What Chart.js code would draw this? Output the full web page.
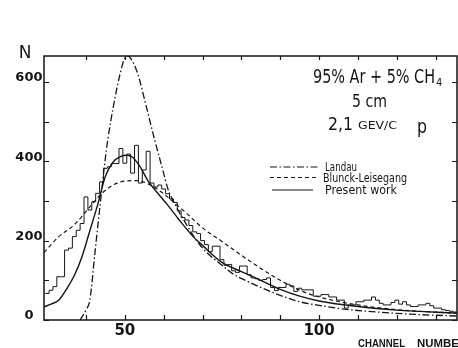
<!DOCTYPE html>
<html><head><meta charset="utf-8">
<script src="https://cdn.jsdelivr.net/npm/chart.js@4.4.1/dist/chart.umd.min.js"></script>
<style>html,body{margin:0;padding:0;background:#fff}#wrap{width:458px;height:348px;position:relative;overflow:hidden}</style>
</head><body><div id="wrap"><canvas id="c" width="458" height="348"></canvas></div>
<script>
// ---- data ----
const histCentres = [30,31,32,33,34,35,36,37,38,39,40,41,42,43,44,45,46,47,48,49,50,51,52,53,54,55,56,57,58,59,60,61,62,63,64,65,66,67,68,69,70,71,72,73,74,75,76,77,78,79,80,81,82,83,84,85,86,87,88,89,90,91,92,93,94,95,96,97,98,99,100,101,102,103,104,105,106,107,108,109,110,111,112,113,114,115,116,117,118,119,120,121,122,123,124,125,126,127,128,129,130,131,132,133,134,135];
const histCounts = [67,75,84,109,109,176,181,210,226,243,310,277,298,319,348,382,386,394,394,432,395,418,370,440,345,378,425,345,335,340,330,318,305,296,275,258,252,238,222,218,200,190,172,186,186,152,138,140,124,120,136,136,114,106,104,100,102,106,82,74,82,82,90,86,72,80,76,76,76,60,60,64,64,58,58,50,50,30,38,38,46,46,50,50,58,50,42,38,38,44,50,40,46,38,34,34,38,38,42,36,30,30,26,24,22,20];

const landauCh = [38.5,40,41,42.3,43.3,44.9,45.6,47,48.8,49.8,50.7,51.6,53.3,55.6,57.7,59.8,61.1,63,65,67,69.4,72,75,78,81,85,90,95,100,106,115,125,135.5];
const landauN  = [0,25,50,168,259,400,453,535,621,655,665,658,621,535,453,377,330,290,255,222,188,162,138,115,100,82,62,46,37,28,20,14,10];

const blunckCh = [29.2,33,37,41,44,47,50,53,56,60,63,66,70,75,80,85,90,95,100,110,120,135.5];
const blunckN  = [170,210,240,285,318,340,350,351,343,318,293,268,232,198,163,130,100,75,58,38,26,17];

const presentCh = [29.2,31,33,35,37,39,41,43,45,47,49,50.5,52,54,56,58,61,64,67.6,70,75,80,85,90,95,100,110,120,135.5];
const presentN  = [33,40,50,78,112,160,225,290,362,398,412,415,410,385,350,325,290,252,210,188,145,122,100,77,60,48,34,25,17];

const xTickValues = [40,50,60,70,80,90,100,110,120,130];
const xTickLabels = {50:'50',100:'100'};
const yTickValues = [0,100,200,300,400,500,600];
const yTickLabels = {0:'0',200:'200',400:'400',600:'600'};

const seriesNames = ['Landau','Blunck-Leisegang','Present work'];

// ---- build datasets ----
const zip = (xs, ys) => xs.map((v, i) => ({x: v, y: ys[i]}));
const histPoints = histCentres.map((c, i) => ({x: c - 0.5, y: histCounts[i]}));
histPoints.push({x: histCentres[histCentres.length-1] + 0.5, y: histCounts[histCounts.length-1]});

const INK = '#151515';
const landauDash = [7,2.5,1.5,2.5];
const blunckDash = [4,3];

function fitText(ctx, text, x, y, w, font, align) {
  ctx.save();
  ctx.font = font;
  const m = ctx.measureText(text).width;
  const s = w / m;
  ctx.translate(x, y);
  ctx.scale(s, 1);
  ctx.textAlign = 'left';
  ctx.fillText(text, 0, 0);
  ctx.restore();
}

const framePlugin = {
  id: 'frame',
  afterDatasetsDraw(chart) {
    const {ctx, chartArea: a, scales: {x, y}} = chart;
    ctx.save();
    ctx.strokeStyle = INK;
    ctx.lineWidth = 1.5;
    ctx.strokeRect(a.left, a.top, a.right - a.left, a.bottom - a.top);
    ctx.lineWidth = 1.2;
    ctx.beginPath();
    yTickValues.forEach(v => {
      const py = Math.round(y.getPixelForValue(v)) + 0.5;
      ctx.moveTo(a.left, py); ctx.lineTo(a.left + 5, py);
      ctx.moveTo(a.right, py); ctx.lineTo(a.right - 5, py);
    });
    xTickValues.forEach(v => {
      const px = Math.round(x.getPixelForValue(v)) + 0.5;
      ctx.moveTo(px, a.bottom); ctx.lineTo(px, a.bottom - 5);
      ctx.moveTo(px, a.top); ctx.lineTo(px, a.top + 4);
    });
    ctx.stroke();
    ctx.restore();
  },
  afterDraw(chart) {
    const ctx = chart.ctx;
    ctx.save();
    ctx.fillStyle = INK;
    ctx.textBaseline = 'alphabetic';
    // axis titles
    ctx.font = '17px "DejaVu Sans"';
    ctx.textAlign = 'center';
    ctx.fillText('N', 25, 58);
    fitText(ctx, 'CHANNEL', 358, 347, 47, 'bold 10px "Liberation Sans"');
    fitText(ctx, 'NUMBER', 417, 347, 50, 'bold 10px "Liberation Sans"');
    // annotation
    const narrow = '"Liberation Sans Narrow","DejaVu Sans Condensed","Liberation Sans"';
    fitText(ctx, '95% Ar + 5% CH', 313, 83, 122, '20px ' + narrow);
    ctx.font = '11px ' + narrow;
    ctx.textAlign = 'left';
    ctx.fillText('4', 436, 86);
    fitText(ctx, '5 cm', 352, 107, 35, '17px ' + narrow);
    fitText(ctx, '2,1', 328, 130, 25, '18px ' + narrow);
    fitText(ctx, 'GEV/C', 358, 129, 39, '11px ' + narrow);
    fitText(ctx, 'p', 417, 133, 10, '20px ' + narrow);
    // legend
    const rows = [
      {y: 167, dash: landauDash, x0: 270, x1: 318, ty: 171, tx: 325, w: 32},
      {y: 177.5, dash: blunckDash, x0: 270, x1: 318, ty: 182, tx: 323, w: 84},
      {y: 190, dash: [], x0: 272, x1: 313, ty: 194, tx: 325, w: 72}
    ];
    rows.forEach((r, i) => {
      ctx.save();
      ctx.strokeStyle = INK;
      ctx.lineWidth = 1.2;
      ctx.setLineDash(r.dash);
      ctx.beginPath(); ctx.moveTo(r.x0, r.y); ctx.lineTo(r.x1, r.y); ctx.stroke();
      ctx.restore();
      fitText(ctx, seriesNames[i], r.tx, r.ty, r.w, '12px ' + narrow);
    });
    ctx.restore();
  }
};

new Chart(document.getElementById('c'), {
  type: 'line',
  data: {
    datasets: [
      {label: 'Histogram', data: histPoints, stepped: 'before', borderColor: INK, borderWidth: 1, pointRadius: 0, fill: false},
      {label: seriesNames[0], data: zip(landauCh, landauN), borderColor: INK, borderWidth: 1.3, borderDash: landauDash, pointRadius: 0, cubicInterpolationMode: 'monotone', fill: false},
      {label: seriesNames[1], data: zip(blunckCh, blunckN), borderColor: INK, borderWidth: 1.2, borderDash: blunckDash, pointRadius: 0, cubicInterpolationMode: 'monotone', fill: false},
      {label: seriesNames[2], data: zip(presentCh, presentN), borderColor: INK, borderWidth: 1.4, pointRadius: 0, cubicInterpolationMode: 'monotone', fill: false}
    ]
  },
  options: {
    responsive: false,
    animation: false,
    devicePixelRatio: 1,
    layout: {padding: {top: 56, right: 1, left: 0, bottom: 0}},
    plugins: {legend: {display: false}, tooltip: {enabled: false}},
    scales: {
      x: {
        type: 'linear', min: 29.2, max: 135.5,
        grid: {display: false, drawTicks: false},
        border: {display: false},
        afterBuildTicks: s => { s.ticks = xTickValues.map(v => ({value: v})); },
        afterFit: s => { s.height = 28; },
        ticks: {
          autoSkip: false, maxRotation: 0, padding: 2, color: INK,
          font: {family: 'DejaVu Sans', size: 15, weight: 'bold'},
          callback: v => xTickLabels[v] || ''
        }
      },
      y: {
        type: 'linear', min: 0, max: 665,
        grid: {display: false, drawTicks: false},
        border: {display: false},
        afterBuildTicks: s => { s.ticks = yTickValues.map(v => ({value: v})); },
        afterFit: s => { s.width = 44; },
        ticks: {
          autoSkip: false, padding: 1.5, crossAlign: 'center', labelOffset: -4, color: INK,
          font: {family: 'DejaVu Sans', size: 13, weight: 'bold'},
          callback: v => yTickLabels[v] || ''
        }
      }
    }
  },
  plugins: [framePlugin]
});
</script>
</body></html>
